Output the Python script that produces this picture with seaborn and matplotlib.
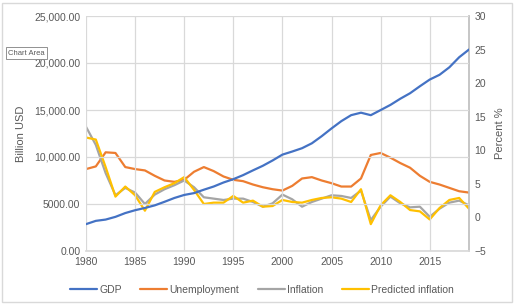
import pandas as pd
import seaborn as sns
import matplotlib.pyplot as plt
from matplotlib.patches import Rectangle

years = list(range(1980, 2020))
gdp = [2857, 3207, 3343, 3634, 4037, 4339, 4579, 4855, 5236, 5641,
       5963, 6158, 6520, 6859, 7287, 7640, 8073, 8577, 9063, 9631,
       10252, 10582, 10936, 11458, 12214, 13037, 13815, 14452, 14713, 14449,
       14992, 15543, 16197, 16785, 17527, 18238, 18745, 19543, 20612, 21433]
unemployment = [7.2, 7.6, 9.7, 9.6, 7.5, 7.2, 7.0, 6.2, 5.5, 5.3,
                5.6, 6.8, 7.5, 6.9, 6.1, 5.6, 5.4, 4.9, 4.5, 4.2,
                4.0, 4.7, 5.8, 6.0, 5.5, 5.1, 4.6, 4.6, 5.8, 9.3,
                9.6, 8.9, 8.1, 7.4, 6.2, 5.3, 4.9, 4.4, 3.9, 3.7]
inflation = [13.5, 10.8, 6.6, 3.3, 4.4, 3.7, 2.0, 3.4, 4.2, 4.8,
             5.5, 4.5, 3.0, 2.8, 2.6, 2.8, 2.8, 2.3, 1.6, 2.1,
             3.4, 2.7, 1.6, 2.3, 2.8, 3.3, 3.2, 2.9, 4.0, -0.4,
             1.6, 3.1, 2.1, 1.5, 1.6, 0.1, 1.3, 2.2, 2.5, 1.8]
predicted = [11.9, 11.6, 7.5, 3.1, 4.6, 3.3, 1.0, 3.8, 4.5, 5.1,
             6.0, 4.1, 2.0, 2.2, 2.2, 3.2, 2.2, 2.5, 1.6, 1.7,
             2.6, 2.3, 2.2, 2.6, 2.9, 3.0, 2.8, 2.3, 4.2, -1.0,
             1.8, 3.3, 2.3, 1.1, 0.9, -0.3, 1.4, 2.6, 2.9, 1.3]

left_ticks = [0, 5000, 10000, 15000, 20000, 25000]
left_labels = ["0.00", "5000.00", "10,000.00", "15,000.00", "20,000.00", "25,000.00"]
right_ticks = [-5, 0, 5, 10, 15, 20, 25, 30]
x_ticks = [1980, 1985, 1990, 1995, 2000, 2005, 2010, 2015]

colors = {"GDP": "#4472C4", "Unemployment": "#ED7D31",
          "Inflation": "#A5A5A5", "Predicted inflation": "#FFC000"}

df = pd.DataFrame({"year": years, "GDP": gdp, "Unemployment": unemployment,
                   "Inflation": inflation, "Predicted inflation": predicted})

sns.set_theme(style="white")
plt.rcParams["font.family"] = ["Liberation Sans", "DejaVu Sans"]
txt = "#595959"

fig = plt.figure(figsize=(5.24, 3.05), dpi=100)
ax = fig.add_axes([86 / 524, 1 - 251 / 305, (469 - 86) / 524, (251 - 16) / 305])
ax2 = ax.twinx()

sns.lineplot(data=df, x="year", y="GDP", ax=ax, color=colors["GDP"], linewidth=1.6, label="GDP", legend=False)
for name in ["Unemployment", "Inflation", "Predicted inflation"]:
    sns.lineplot(data=df, x="year", y=name, ax=ax2, color=colors[name], linewidth=1.6, label=name, legend=False)

ax.set_xlim(1980, 2019)
ax.set_ylim(0, 25000)
ax2.set_ylim(-5, 30)
ax.set_xticks(x_ticks)
ax.set_yticks(left_ticks)
ax.set_yticklabels(left_labels)
ax2.set_yticks(right_ticks)

ax.grid(True, color="#D9D9D9", linewidth=0.9)
ax2.grid(False)
for a in (ax, ax2):
    for s in a.spines.values():
        s.set_visible(False)
    a.tick_params(colors=txt, labelsize=7.5, length=0, pad=4)
ax2.spines["right"].set_visible(True)
ax2.spines["right"].set_color("#BFBFBF")
ax2.spines["bottom"].set_visible(True)
ax2.spines["bottom"].set_color("#D9D9D9")
ax.set_zorder(ax2.get_zorder() + 1)
ax.patch.set_visible(False)

ax.set_xlabel("")
ax.set_ylabel("Billion USD", color=txt, fontsize=8, labelpad=6)
ax2.set_ylabel("Percent %", color=txt, fontsize=8, labelpad=6)

h1, l1 = ax.get_legend_handles_labels()
h2, l2 = ax2.get_legend_handles_labels()
fig.legend(h1 + h2, l1 + l2, loc="center", bbox_to_anchor=(262 / 524, 1 - 290 / 305),
           ncol=4, frameon=False, fontsize=7.5, labelcolor=txt, handlelength=2.6,
           handletextpad=0.2, columnspacing=1.8)

fig.patches.append(Rectangle((2 / 524, 3 / 305), 510 / 524, 299 / 305, transform=fig.transFigure,
                             fill=False, edgecolor="#D9D9D9", linewidth=1))
fig.text(8 / 524, 1 - 53 / 305, "Chart Area", fontsize=5.5, color=txt, va="center",
         bbox=dict(boxstyle="square,pad=0.3", facecolor="white", edgecolor="#808080", linewidth=0.6))

fig.savefig("out.png", dpi=100)
